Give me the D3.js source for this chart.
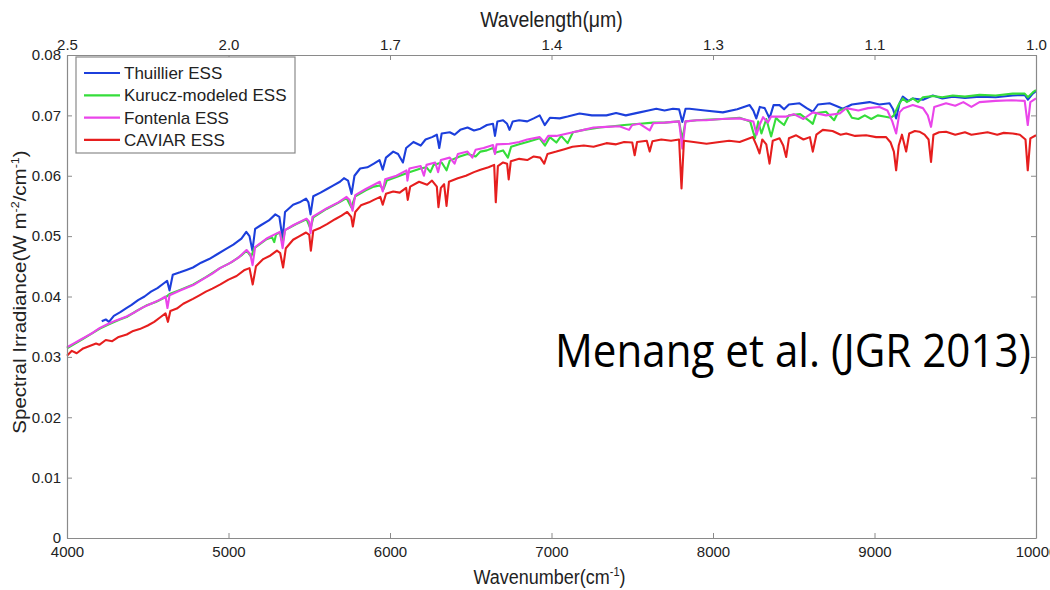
<!DOCTYPE html>
<html><head><meta charset="utf-8">
<script src="https://cdn.jsdelivr.net/npm/d3@7"></script>
<style>body{margin:0;background:#fff}svg{display:block}</style>
</head><body>
<svg id="chart" width="1050" height="590"></svg>
<script>
// ---- data ----
const seriesNames = ["Thuillier ESS","Kurucz-modeled ESS","Fontenla ESS","CAVIAR ESS"];
const bottomTicks = [4000,5000,6000,7000,8000,9000,10000];
const bottomTickLabels = ["4000","5000","6000","7000","8000","9000","10000"];
const topTickLabels = ["2.5","2.0","1.7","1.4","1.3","1.1","1.0"];
const yTicks = [0,0.01,0.02,0.03,0.04,0.05,0.06,0.07,0.08];
const yTickLabels = ["0","0.01","0.02","0.03","0.04","0.05","0.06","0.07","0.08"];

const thuillier = [[4215,0.0359],[4240,0.0362],[4260,0.0358],[4290,0.0368],[4330,0.0374],[4370,0.0381],[4400,0.0386],[4440,0.0394],[4480,0.0400],[4520,0.0408],[4560,0.0414],[4600,0.0422],[4620,0.0426],[4635,0.0410],[4655,0.0436],[4700,0.0440],[4740,0.0444],[4780,0.0448],[4830,0.0456],[4880,0.0462],[4930,0.0470],[4980,0.0478],[5030,0.0486],[5080,0.0496],[5110,0.0507],[5130,0.0500],[5148,0.0476],[5165,0.0512],[5200,0.0518],[5250,0.0526],[5290,0.0536],[5315,0.0532],[5335,0.0496],[5350,0.0540],[5400,0.0552],[5440,0.0556],[5480,0.0562],[5495,0.0556],[5508,0.0536],[5525,0.0566],[5570,0.0572],[5610,0.0578],[5650,0.0584],[5690,0.0590],[5715,0.0596],[5740,0.0592],[5762,0.0570],[5780,0.0600],[5815,0.0612],[5860,0.0614],[5900,0.0620],[5935,0.0626],[5955,0.0610],[5975,0.0630],[6020,0.0640],[6050,0.0636],[6080,0.0622],[6100,0.0646],[6145,0.0656],[6190,0.0650],[6220,0.0660],[6260,0.0664],[6290,0.0668],[6305,0.0646],[6320,0.0670],[6370,0.0672],[6400,0.0668],[6435,0.0676],[6480,0.0680],[6520,0.0675],[6560,0.0678],[6600,0.0684],[6638,0.0686],[6650,0.0666],[6665,0.0690],[6700,0.0692],[6725,0.0686],[6740,0.0676],[6760,0.0690],[6800,0.0692],[6850,0.0690],[6890,0.0695],[6927,0.0700],[6958,0.0684],[6990,0.0696],[7051,0.0695],[7100,0.0698],[7174,0.0703],[7250,0.0700],[7340,0.0700],[7400,0.0704],[7460,0.0700],[7546,0.0705],[7600,0.0708],[7649,0.0711],[7700,0.0708],[7752,0.0711],[7790,0.0710],[7810,0.0689],[7830,0.0711],[7855,0.0711],[7950,0.0708],[8061,0.0705],[8150,0.0710],[8227,0.0717],[8250,0.0708],[8268,0.0695],[8290,0.0714],[8320,0.0712],[8350,0.0695],[8375,0.0717],[8412,0.0717],[8440,0.0710],[8470,0.0718],[8536,0.0720],[8580,0.0712],[8618,0.0706],[8650,0.0718],[8722,0.0720],[8760,0.0716],[8804,0.0711],[8860,0.0718],[8969,0.0722],[9030,0.0718],[9093,0.0720],[9115,0.0710],[9134,0.0695],[9155,0.0720],[9175,0.0731],[9210,0.0724],[9237,0.0728],[9300,0.0726],[9361,0.0733],[9420,0.0728],[9485,0.0731],[9560,0.0729],[9650,0.0731],[9750,0.0730],[9856,0.0733],[9930,0.0734],[9950,0.0726],[9980,0.0736],[10000,0.0740]];

const kurucz = [[4000,0.0314],[4050,0.0322],[4100,0.0330],[4150,0.0338],[4204,0.0347],[4260,0.0354],[4320,0.0361],[4369,0.0366],[4430,0.0376],[4490,0.0385],[4550,0.0391],[4612,0.0399],[4635,0.0404],[4700,0.0411],[4782,0.0420],[4860,0.0432],[4947,0.0447],[5020,0.0457],[5080,0.0468],[5112,0.0476],[5140,0.0466],[5160,0.0480],[5236,0.0495],[5270,0.0498],[5283,0.0490],[5295,0.0503],[5318,0.0506],[5335,0.0488],[5350,0.0510],[5420,0.0520],[5483,0.0528],[5508,0.0512],[5525,0.0531],[5607,0.0545],[5680,0.0555],[5731,0.0563],[5760,0.0548],[5785,0.0566],[5850,0.0576],[5900,0.0582],[5937,0.0584],[5960,0.0578],[5980,0.0592],[6040,0.0598],[6102,0.0604],[6120,0.0606],[6190,0.0612],[6226,0.0614],[6250,0.0606],[6270,0.0618],[6320,0.0622],[6350,0.0609],[6370,0.0625],[6432,0.0632],[6480,0.0636],[6530,0.0632],[6560,0.0640],[6600,0.0642],[6638,0.0646],[6650,0.0638],[6700,0.0642],[6730,0.0630],[6750,0.0648],[6800,0.0652],[6850,0.0656],[6927,0.0662],[6960,0.0650],[6990,0.0664],[7030,0.0655],[7060,0.0666],[7100,0.0654],[7133,0.0672],[7200,0.0676],[7300,0.0680],[7380,0.0682],[7450,0.0684],[7546,0.0686],[7630,0.0688],[7700,0.0688],[7790,0.0690],[7810,0.0660],[7830,0.0690],[7900,0.0692],[7980,0.0693],[8060,0.0694],[8165,0.0696],[8230,0.0690],[8260,0.0662],[8280,0.0690],[8300,0.0670],[8330,0.0694],[8360,0.0665],[8390,0.0696],[8412,0.0690],[8440,0.0684],[8470,0.0700],[8540,0.0702],[8600,0.0690],[8618,0.0686],[8640,0.0704],[8700,0.0706],[8750,0.0692],[8780,0.0708],[8825,0.0712],[8860,0.0696],[8900,0.0694],[8940,0.0700],[8980,0.0694],[9020,0.0700],[9060,0.0698],[9100,0.0696],[9120,0.0700],[9150,0.0718],[9175,0.0728],[9200,0.0722],[9237,0.0728],[9270,0.0722],[9300,0.0730],[9361,0.0732],[9420,0.0730],[9485,0.0733],[9560,0.0731],[9650,0.0734],[9750,0.0733],[9856,0.0736],[9930,0.0736],[9950,0.0730],[9980,0.0738],[10000,0.0742]];

const fontenla = [[4000,0.0316],[4040,0.0322],[4080,0.0328],[4120,0.0334],[4160,0.0340],[4204,0.0348],[4250,0.0354],[4300,0.0360],[4369,0.0367],[4420,0.0374],[4470,0.0382],[4520,0.0388],[4570,0.0394],[4610,0.0400],[4622,0.0381],[4635,0.0402],[4700,0.0410],[4782,0.0419],[4850,0.0430],[4900,0.0438],[4947,0.0447],[5000,0.0454],[5060,0.0464],[5112,0.0477],[5135,0.0470],[5149,0.0452],[5165,0.0482],[5236,0.0496],[5280,0.0502],[5318,0.0507],[5335,0.0480],[5350,0.0510],[5400,0.0518],[5483,0.0529],[5500,0.0524],[5508,0.0505],[5520,0.0532],[5607,0.0546],[5680,0.0556],[5731,0.0565],[5750,0.0560],[5768,0.0542],[5785,0.0568],[5850,0.0578],[5937,0.0590],[5955,0.0574],[5970,0.0594],[6040,0.0600],[6102,0.0609],[6108,0.0592],[6120,0.0612],[6190,0.0616],[6210,0.0600],[6226,0.0618],[6280,0.0622],[6298,0.0606],[6315,0.0626],[6370,0.0630],[6400,0.0620],[6420,0.0636],[6480,0.0640],[6510,0.0630],[6530,0.0643],[6580,0.0646],[6638,0.0651],[6650,0.0636],[6660,0.0652],[6741,0.0653],[6800,0.0656],[6850,0.0660],[6927,0.0664],[6955,0.0656],[6980,0.0666],[7030,0.0666],[7133,0.0672],[7200,0.0676],[7260,0.0680],[7340,0.0681],[7420,0.0682],[7480,0.0676],[7500,0.0684],[7546,0.0686],[7608,0.0675],[7630,0.0687],[7700,0.0688],[7790,0.0690],[7810,0.0645],[7830,0.0690],[7900,0.0692],[7958,0.0692],[8050,0.0694],[8165,0.0695],[8250,0.0690],[8270,0.0668],[8288,0.0684],[8310,0.0697],[8340,0.0688],[8360,0.0698],[8453,0.0698],[8500,0.0702],[8560,0.0694],[8618,0.0705],[8700,0.0700],[8783,0.0703],[8825,0.0712],[8900,0.0708],[8960,0.0712],[9031,0.0714],[9080,0.0708],[9110,0.0690],[9134,0.0670],[9155,0.0705],[9180,0.0712],[9237,0.0717],[9300,0.0712],[9330,0.0700],[9350,0.0681],[9370,0.0714],[9443,0.0720],[9500,0.0716],[9550,0.0722],[9600,0.0714],[9650,0.0722],[9750,0.0724],[9850,0.0725],[9930,0.0724],[9949,0.0684],[9965,0.0722],[10000,0.0728]];

const caviar = [[4000,0.0302],[4030,0.0310],[4060,0.0306],[4100,0.0314],[4140,0.0318],[4180,0.0322],[4200,0.0320],[4240,0.0328],[4280,0.0326],[4320,0.0333],[4370,0.0337],[4410,0.0343],[4450,0.0346],[4500,0.0352],[4540,0.0358],[4580,0.0366],[4610,0.0372],[4625,0.0358],[4640,0.0376],[4680,0.0380],[4720,0.0388],[4780,0.0396],[4820,0.0402],[4860,0.0408],[4900,0.0413],[4950,0.0420],[5000,0.0428],[5050,0.0434],[5100,0.0444],[5130,0.0447],[5150,0.0420],[5170,0.0450],[5215,0.0462],[5260,0.0468],[5300,0.0476],[5320,0.0472],[5338,0.0448],[5355,0.0480],[5400,0.0494],[5440,0.0500],[5480,0.0506],[5500,0.0502],[5510,0.0476],[5525,0.0509],[5570,0.0514],[5610,0.0520],[5660,0.0528],[5700,0.0534],[5735,0.0540],[5760,0.0532],[5770,0.0516],[5785,0.0540],[5820,0.0551],[5870,0.0556],[5900,0.0560],[5940,0.0565],[5955,0.0552],[5975,0.0570],[6020,0.0574],[6060,0.0572],[6100,0.0580],[6110,0.0560],[6125,0.0582],[6180,0.0590],[6230,0.0585],[6260,0.0592],[6290,0.0582],[6300,0.0548],[6315,0.0580],[6335,0.0586],[6350,0.0550],[6365,0.0590],[6420,0.0596],[6470,0.0600],[6520,0.0606],[6560,0.0610],[6610,0.0614],[6645,0.0618],[6655,0.0556],[6668,0.0616],[6700,0.0622],[6725,0.0620],[6735,0.0594],[6748,0.0624],[6800,0.0628],[6850,0.0626],[6890,0.0632],[6930,0.0630],[6955,0.0620],[6975,0.0636],[7030,0.0640],[7080,0.0644],[7130,0.0648],[7200,0.0650],[7260,0.0648],[7340,0.0654],[7400,0.0652],[7450,0.0656],[7500,0.0655],[7515,0.0634],[7530,0.0656],[7590,0.0658],[7608,0.0640],[7625,0.0657],[7680,0.0660],[7740,0.0658],[7790,0.0660],[7805,0.0579],[7820,0.0658],[7880,0.0656],[7960,0.0653],[8040,0.0656],[8100,0.0658],[8165,0.0656],[8247,0.0664],[8270,0.0650],[8288,0.0637],[8305,0.0660],[8330,0.0652],[8350,0.0620],[8370,0.0658],[8412,0.0662],[8435,0.0650],[8453,0.0631],[8470,0.0662],[8515,0.0667],[8560,0.0660],[8600,0.0664],[8618,0.0640],[8640,0.0668],[8680,0.0676],[8740,0.0674],[8790,0.0668],[8825,0.0670],[8880,0.0666],[8948,0.0667],[9010,0.0664],[9072,0.0664],[9100,0.0655],[9120,0.0640],[9134,0.0609],[9150,0.0650],[9170,0.0668],[9196,0.0640],[9215,0.0670],[9250,0.0674],[9278,0.0673],[9310,0.0668],[9335,0.0660],[9350,0.0623],[9365,0.0668],[9400,0.0672],[9443,0.0673],[9500,0.0668],[9560,0.0672],[9600,0.0668],[9650,0.0670],[9700,0.0672],[9760,0.0668],[9800,0.0671],[9856,0.0670],[9900,0.0668],[9935,0.0660],[9949,0.0609],[9965,0.0662],[10000,0.0667]];

const seriesData = [thuillier, kurucz, fontenla, caviar];
const seriesColors = ["#1c3fdc","#35dd3a","#ea45ea","#e61e1e"];

// ---- drawing ----
const svg = d3.select("#chart");
const L = 67, R = 1036, T = 55, B = 538;
const x = d3.scaleLinear().domain([4000,10000]).range([L,R]);
const y = d3.scaleLinear().domain([0,0.08]).range([B,T]);
const axisColor = "#8a8a8a", textColor = "#222";
const font = "'Liberation Sans', Arial, sans-serif";

svg.append("rect").attr("x",L).attr("y",T).attr("width",R-L).attr("height",B-T).attr("fill","#fff");

const line = d3.line().x(d=>x(d[0])).y(d=>y(d[1]));
seriesData.forEach((s,i)=>{
  svg.append("path").datum(s).attr("d",line).attr("fill","none")
    .attr("stroke",seriesColors[i]).attr("stroke-width",2.1).attr("stroke-linejoin","round");
});

function styleAxis(g, size){
  g.select(".domain").attr("stroke",axisColor).attr("stroke-width",1.2);
  g.selectAll(".tick line").attr("stroke",axisColor).attr("stroke-width",1);
  g.selectAll(".tick text").attr("fill",textColor).style("font-family",font).style("font-size",size+"px");
}
const gB = svg.append("g").attr("transform",`translate(0,${B})`)
  .call(d3.axisBottom(x).tickValues(bottomTicks).tickSizeInner(-5).tickSizeOuter(0).tickPadding(8)
    .tickFormat((d,i)=>bottomTickLabels[i]));
styleAxis(gB,15);
const gT = svg.append("g").attr("transform",`translate(0,${T})`)
  .call(d3.axisTop(x).tickValues(bottomTicks).tickSizeInner(-5).tickSizeOuter(0).tickPadding(5)
    .tickFormat((d,i)=>topTickLabels[i]));
styleAxis(gT,15);
const gL = svg.append("g").attr("transform",`translate(${L},0)`)
  .call(d3.axisLeft(y).tickValues(yTicks).tickSizeInner(-5).tickSizeOuter(0).tickPadding(6)
    .tickFormat((d,i)=>yTickLabels[i]));
styleAxis(gL,15);
const gR = svg.append("g").attr("transform",`translate(${R},0)`)
  .call(d3.axisRight(y).tickValues(yTicks).tickSizeInner(-5).tickSizeOuter(0).tickFormat(""));
styleAxis(gR,15);

// axis titles
const cx = (L+R)/2;
svg.append("text").attr("transform",`translate(${cx},27) scale(1,1.1)`).attr("text-anchor","middle")
  .style("font-family",font).style("font-size","19.5px").attr("fill",textColor).text("Wavelength(μm)");
const tBot = svg.append("text").attr("transform",`translate(${cx-2},584) scale(1,1.1)`).attr("text-anchor","middle")
  .style("font-family",font).style("font-size","18px").attr("fill",textColor);
tBot.append("tspan").text("Wavenumber(cm");
tBot.append("tspan").attr("dy",-7).style("font-size","11px").text("-1");
tBot.append("tspan").attr("dy",7).text(")");
const tY = svg.append("text").attr("transform","translate(26,292) rotate(-90) scale(1.14,1)").attr("text-anchor","middle")
  .style("font-family",font).style("font-size","18px").attr("fill",textColor);
tY.append("tspan").text("Spectral Irradiance(W m");
tY.append("tspan").attr("dy",-7).style("font-size","11px").text("-2");
tY.append("tspan").attr("dy",7).text("/cm");
tY.append("tspan").attr("dy",-7).style("font-size","11px").text("-1");
tY.append("tspan").attr("dy",7).text(")");

// legend
const leg = svg.append("g");
leg.append("rect").attr("x",76).attr("y",57).attr("width",219).attr("height",96)
  .attr("fill","#fff").attr("stroke",axisColor).attr("stroke-width",1.2);
seriesNames.forEach((n,i)=>{
  const yy = 73 + i*22.3;
  leg.append("line").attr("x1",84).attr("x2",120).attr("y1",yy).attr("y2",yy)
    .attr("stroke",seriesColors[i]).attr("stroke-width",2.2);
  leg.append("text").attr("x",124).attr("y",yy+6).style("font-family",font).style("font-size","17px")
    .attr("fill",textColor).text(n);
});

// annotation
svg.append("text").attr("x",555).attr("y",367)
  .style("font-family","'Open Sans', 'Noto Sans', sans-serif").style("font-size","46px")
  .attr("fill","#000").attr("textLength",476).attr("lengthAdjust","spacingAndGlyphs")
  .text("Menang et al. (JGR 2013)");
</script>
</body></html>
